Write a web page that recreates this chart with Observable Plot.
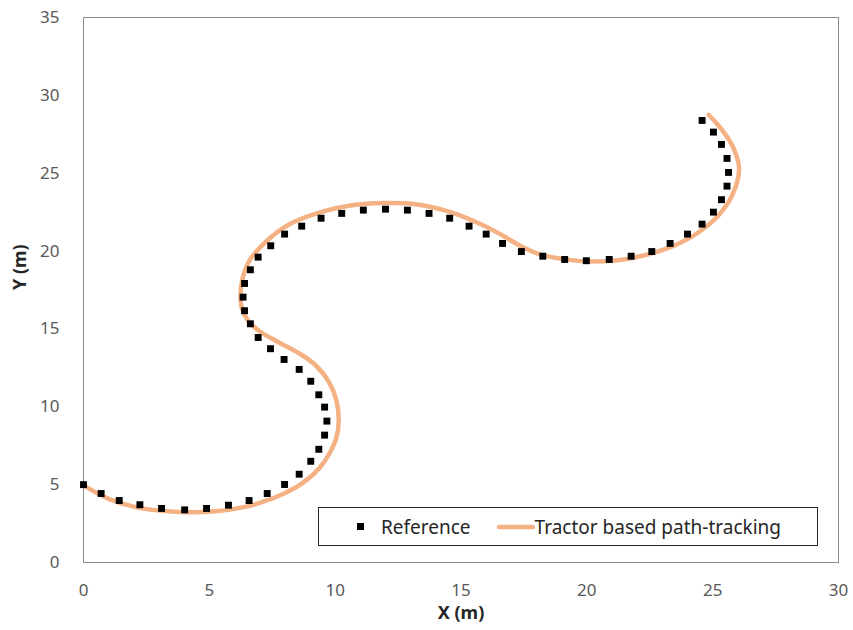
<!DOCTYPE html>
<html>
<head>
<meta charset="utf-8">
<script src="https://cdn.jsdelivr.net/npm/d3@7"></script>
<script src="https://cdn.jsdelivr.net/npm/@observablehq/plot@0.6"></script>
<style>
  html, body { margin: 0; padding: 0; background: #fff; }
  #wrap { position: relative; width: 853px; height: 630px; font-family: "Noto Sans", sans-serif; }
  #legend { position: absolute; left: 318px; top: 507px; width: 500px; height: 39px; border: 1px solid #262626;
            box-sizing: border-box; background: #fff; display: flex; align-items: center; font-size: 19px; color: #262626; }
  #legend span { white-space: nowrap; }
</style>
</head>
<body>
<div id="wrap"><div id="legend"></div></div>
<script>
const refX = [0, 0.70, 1.42, 2.24, 3.10, 4.02, 4.89, 5.76, 6.58, 7.30, 7.99, 8.57, 9.03, 9.35, 9.58, 9.67, 9.58, 9.35, 9.03, 8.57,
  7.97, 7.43, 6.94, 6.63, 6.40, 6.34, 6.40, 6.63, 6.94, 7.44, 7.99, 8.67, 9.44, 10.26, 11.12, 12.0, 12.87, 13.73, 14.55, 15.32,
  16.0, 16.65, 17.40, 18.25, 19.12, 19.98, 20.89, 21.76, 22.58, 23.31, 24.0, 24.58, 25.03, 25.35, 25.57, 25.63, 25.57, 25.35, 25.03, 24.58];
const refY = [5.0, 4.43, 3.98, 3.71, 3.47, 3.38, 3.47, 3.68, 3.98, 4.43, 5.01, 5.67, 6.50, 7.27, 8.18, 9.08, 9.98, 10.77, 11.64, 12.40,
  13.04, 13.73, 14.45, 15.33, 16.17, 17.04, 17.92, 18.80, 19.61, 20.34, 21.09, 21.60, 22.11, 22.42, 22.63, 22.69, 22.63, 22.42, 22.11, 21.60,
  21.09, 20.49, 19.97, 19.67, 19.46, 19.38, 19.46, 19.67, 19.97, 20.49, 21.09, 21.73, 22.50, 23.30, 24.17, 25.05, 25.95, 26.85, 27.64, 28.39];

const trackX = [0.0, 1.0, 2.2, 4.05, 5.24, 6.57, 7.23, 7.99, 8.7, 9.37, 9.8, 10.06, 10.14, 10.05, 9.75, 9.2, 8.55, 7.8, 7.0, 6.55, 6.3, 6.24,
  6.3, 6.6, 7.3, 8.22, 9.42, 10.6, 11.93, 13.26, 14.58, 15.9, 16.65, 17.4, 18.22, 19.22, 20.27, 21.63, 23.05, 24.27, 25.21, 25.8,
  26.05, 25.84, 25.44, 24.84];
const trackY = [4.95, 4.09, 3.51, 3.23, 3.29, 3.62, 3.95, 4.45, 5.1, 6.05, 7.08, 8.08, 9.12, 10.4, 11.6, 12.7, 13.45, 14.1, 14.85, 15.5, 16.3, 17.1,
  18.1, 19.4, 20.68, 21.75, 22.5, 22.93, 23.08, 22.99, 22.5, 21.64, 21.0, 20.3, 19.75, 19.45, 19.33, 19.5, 20.09, 21.03, 22.25, 23.67,
  25.3, 26.57, 27.64, 28.75];

const xTicks = [0, 5, 10, 15, 20, 25, 30];
const yTicks = [0, 5, 10, 15, 20, 25, 30, 35];
const xTitle = "X (m)";
const yTitle = "Y (m)";
const seriesNames = ["Reference", "Tractor based path-tracking"];

const refData = refX.map((x, i) => ({x, y: refY[i]}));
const trackData = trackX.map((x, i) => ({x, y: trackY[i]}));

const lineColor = "#F4B183";

const chart = Plot.plot({
  width: 853,
  height: 630,
  marginLeft: 83,
  marginRight: 15,
  marginTop: 17,
  marginBottom: 68,
  style: {fontFamily: "'Noto Sans', sans-serif", background: "#fff"},
  x: {domain: [0, 30]},
  y: {domain: [0, 35]},
  marks: [
    Plot.frame({stroke: "#8c8c8c"}),
    Plot.axisX({ticks: xTicks, tickSize: 0, tickPadding: 21, fontSize: 17, color: "#595959", label: null}),
    Plot.axisY({ticks: yTicks, tickSize: 0, tickPadding: 24, fontSize: 17, color: "#595959", label: null}),
    Plot.line(trackData, {x: "x", y: "y", stroke: lineColor, strokeWidth: 4.5, curve: "catmull-rom"}),
    Plot.dot(refData, {x: "x", y: "y", symbol: "square", r: 3.9, fill: "#000", stroke: null}),
    Plot.text([xTitle], {frameAnchor: "bottom", dy: 56, fontSize: 18, fontWeight: "bold", fill: "#262626"}),
    Plot.text([yTitle], {frameAnchor: "left", dx: -63, rotate: -90, fontSize: 18, fontWeight: "bold", fill: "#262626"})
  ]
});
const wrap = document.getElementById("wrap");
wrap.insertBefore(chart, wrap.firstChild);

const legend = document.getElementById("legend");
legend.innerHTML =
  `<svg width="36" height="20" style="margin-left:24px"><rect x="14" y="6" width="7" height="7" fill="#000"/></svg>` +
  `<span style="margin-left:2px">${seriesNames[0]}</span>` +
  `<svg width="40" height="20" style="margin-left:24px"><line x1="4" y1="10" x2="38" y2="10" stroke="${lineColor}" stroke-width="4.5" stroke-linecap="round"/></svg>` +
  `<span>${seriesNames[1]}</span>`;
</script>
</body>
</html>
